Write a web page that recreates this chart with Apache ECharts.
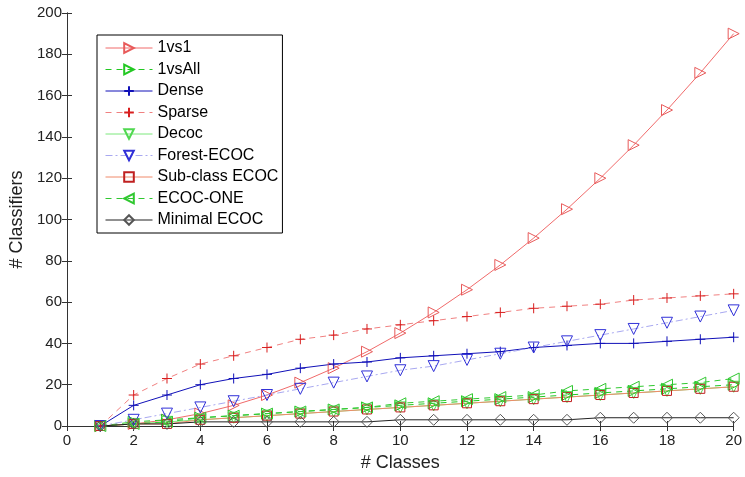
<!DOCTYPE html>
<html>
<head>
<meta charset="utf-8">
<script src="https://cdn.jsdelivr.net/npm/echarts@6/dist/echarts.min.js"></script>
<style>
  html, body { margin: 0; padding: 0; background: #fff; }
  #chart { width: 745px; height: 477px; }
</style>
</head>
<body>
<div id="chart"></div>
<script>
// number of classes on the x axis
const classes = [1, 2, 3, 4, 5, 6, 7, 8, 9, 10, 11, 12, 13, 14, 15, 16, 17, 18, 19, 20]

// number of classifiers per method
const oneVsOne = [0, 1, 3, 6, 10, 15, 21, 28, 36, 45, 55, 66, 78, 91, 105, 120, 136, 153, 171, 190]
const oneVsAll = [0, 2, 3, 4, 5, 6, 7, 8, 9, 10, 11, 12, 13, 14, 15, 16, 17, 18, 19, 20]
const dense = [0, 10, 15, 20, 23, 25, 28, 30, 31, 33, 34, 35, 36, 38, 39, 40, 40, 41, 42, 43]
const sparse = [0, 15, 23, 30, 34, 38, 42, 44, 47, 49, 51, 53, 55, 57, 58, 59, 61, 62, 63, 64]
const decoc = [0, 1, 2, 3, 4, 5, 6, 7, 8, 9, 10, 11, 12, 13, 14, 15, 16, 17, 18, 19]
const forestEcoc = [0, 3, 6, 9, 12, 15, 18, 21, 24, 27, 29, 32, 35, 38, 41, 44, 47, 50, 53, 56]
const subclassEcoc = [0, 1, 1, 3, 4, 5, 6, 7, 8, 9, 10, 11, 12, 13, 14, 15, 16, 17, 18, 19]
const ecocOne = [0, 1, 2, 4, 5, 6, 7, 8, 9, 11, 12, 13, 14, 15, 17, 18, 19, 20, 21, 23]
const minimalEcoc = [0, 1, 1, 2, 2, 2, 2, 2, 2, 3, 3, 3, 3, 3, 3, 4, 4, 4, 4, 4]

const xTicks = { min: 0, max: 20, interval: 2 }
const yTicks = { min: 0, max: 200, interval: 20 }

const FONT = 'Liberation Sans, Arial, sans-serif'

const pair = vals => classes.map((c, i) => [c, vals[i]])

const TRI_RIGHT = 'path://M0,0L10,5L0,10Z'
const TRI_LEFT = 'path://M10,0L0,5L10,10Z'
const TRI_DOWN = 'path://M0,0L10,0L5,10Z'
const PLUS = 'path://M5,0V10M0,5H10'
const SQUARE = 'path://M0,0H10V10H0Z'
const DIAMOND = 'path://M5,0L10,5L5,10L0,5Z'

const mkSeries = (name, vals, lineColor, type, symbol, markColor, size) => ({
  name,
  type: 'line',
  data: pair(vals),
  symbol,
  symbolSize: size || 10,
  showSymbol: true,
  lineStyle: { color: lineColor, width: 1, type },
  itemStyle: { color: 'rgba(0,0,0,0)', borderColor: markColor, borderWidth: 1 },
  emphasis: { disabled: true },
  animation: false
})

const series = [
  mkSeries('1vs1', oneVsOne, '#f06a6a', 'solid', TRI_RIGHT, '#e85a5a', 11),
  mkSeries('1vsAll', oneVsAll, '#22c822', [6, 5], TRI_RIGHT, '#22c822', 11),
  mkSeries('Dense', dense, '#1010b8', 'solid', PLUS, '#1010b8', 10),
  mkSeries('Sparse', sparse, '#f08080', [6, 5], PLUS, '#d81e1e', 10),
  mkSeries('Decoc', decoc, '#7ce87c', 'solid', TRI_DOWN, '#50d850', 11),
  mkSeries('Forest-ECOC', forestEcoc, '#a8a8f0', [7, 3, 2, 3], TRI_DOWN, '#3030d8', 11),
  mkSeries('Sub-class ECOC', subclassEcoc, '#f08a6a', 'solid', SQUARE, '#c02020', 9),
  mkSeries('ECOC-ONE', ecocOne, '#30c830', [6, 5], TRI_LEFT, '#30c830', 11),
  mkSeries('Minimal ECOC', minimalEcoc, '#222222', 'solid', DIAMOND, '#555555', 11)
]

const axisLine = { show: true, lineStyle: { color: '#333', width: 1 } }
const axisTick = { show: true, inside: true, length: 5, lineStyle: { color: '#333' } }

const option = {
  backgroundColor: '#fff',
  animation: false,
  textStyle: { fontFamily: FONT },
  grid: { left: 67, right: 10, top: 13, bottom: 50, containLabel: false },
  legend: {
    orient: 'vertical',
    left: 97,
    top: 35,
    padding: [5, 4, 5, 8],
    itemWidth: 47,
    itemHeight: 12,
    itemGap: 5.5,
    backgroundColor: '#fff',
    borderColor: '#000',
    borderWidth: 1,
    borderRadius: 0,
    lineStyle: { width: 1 },
    textStyle: { fontFamily: FONT, fontSize: 16, color: '#000' },
    data: series.map(s => s.name)
  },
  xAxis: [
    {
      type: 'value', ...xTicks,
      axisLine, axisTick,
      splitLine: { show: false },
      axisLabel: { fontSize: 15, color: '#222', margin: 7, fontFamily: FONT },
      name: '# Classes',
      nameLocation: 'middle',
      nameGap: 28,
      nameTextStyle: { fontSize: 18, color: '#222', fontFamily: FONT }
    },
    {
      type: 'value', position: 'top', ...xTicks,
      axisLine, axisTick,
      splitLine: { show: false },
      axisLabel: { show: false }
    }
  ],
  yAxis: [
    {
      type: 'value', ...yTicks,
      axisLine, axisTick,
      splitLine: { show: false },
      axisLabel: { fontSize: 15, color: '#222', margin: 5, fontFamily: FONT },
      name: '# Classifiers',
      nameLocation: 'middle',
      nameGap: 40,
      nameTextStyle: { fontSize: 18, color: '#222', fontFamily: FONT }
    },
    {
      type: 'value', position: 'right', ...yTicks,
      axisLine, axisTick,
      splitLine: { show: false },
      axisLabel: { show: false }
    }
  ],
  series
}

const myChart = echarts.init(document.getElementById('chart'))
myChart.setOption(option)
window.addEventListener('resize', () => myChart.resize())
</script>
</body>
</html>
